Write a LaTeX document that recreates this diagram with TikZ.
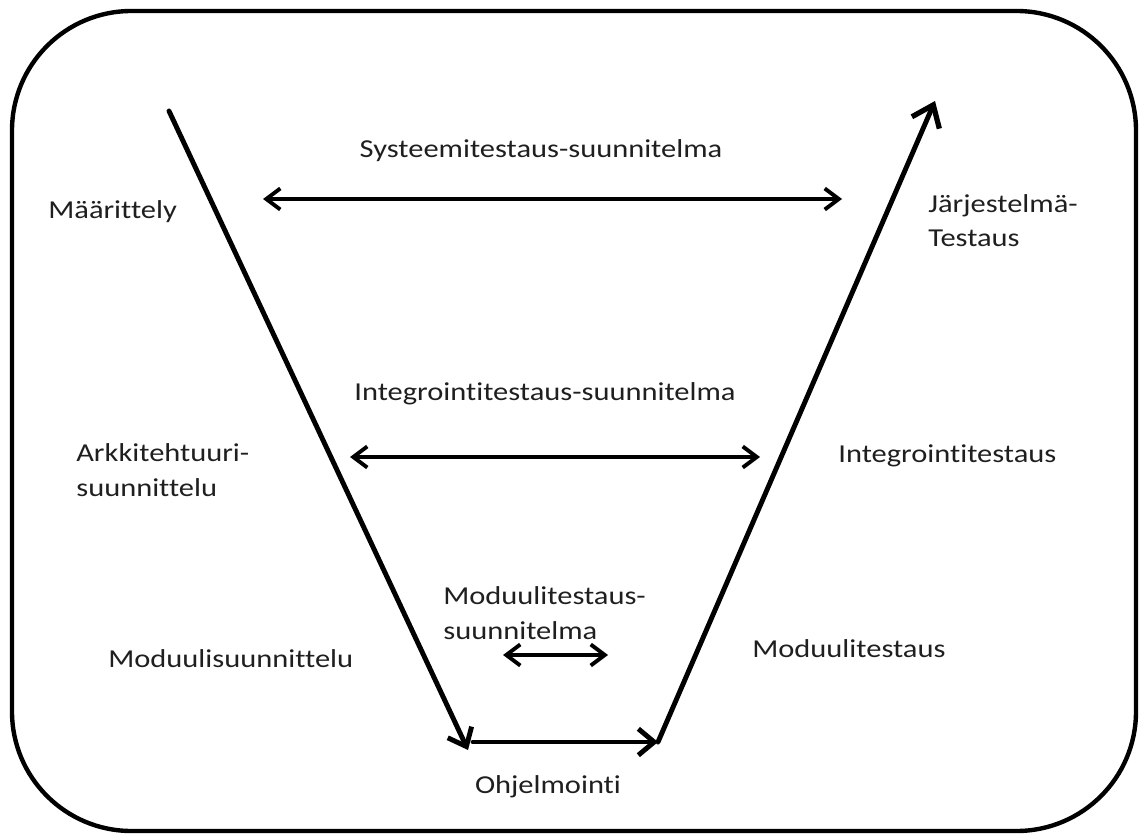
\documentclass[tikz,border=0pt]{standalone}
\usepackage{fontspec}
\setmainfont[FakeStretch=1.18,Ligatures={NoCommon}]{Carlito}
\usetikzlibrary{arrows.meta}
\begin{document}
\begin{tikzpicture}[x=0.02cm,y=-0.02cm,
  lbl/.style={inner sep=0pt, font=\fontsize{14.7}{19.8}\selectfont, text=black!88, align=left},
  vline/.style={line width=2.8pt, line cap=round,
    -{Straight Barb[length=9pt,width=15pt,line width=2.8pt]}},
  peak/.style={line width=2.8pt, line cap=round,
    -{Straight Barb[length=11pt,width=17pt,line width=3pt]}},
  both/.style={line width=2pt,
    {Straight Barb[length=8pt,width=12pt,line width=2.2pt]}-{Straight Barb[length=8pt,width=12pt,line width=2.2pt]}}
]
\useasboundingbox (0,0) rectangle (1142,834);
% outer frame
\draw[line width=2.5pt, rounded corners=68pt] (12,11) rectangle (1136,831);

% V-model path
\coordinate (vtop) at (169,111);
\coordinate (vbl) at (468,750);
\coordinate (bstart) at (473,742);
\coordinate (vbr) at (658,742);
\coordinate (vtr) at (935,101);
\draw[vline] (vtop) -- (vbl);
\draw[vline] (bstart) -- (vbr);
\draw[peak] (vbr) -- (vtr);

% test plan arrows
\coordinate (s1) at (263,199);
\coordinate (s2) at (842,199);
\coordinate (i1) at (350,457);
\coordinate (i2) at (760,457);
\coordinate (m1) at (503,655);
\coordinate (m2) at (608,655);
\draw[both] (s1) -- (s2);
\draw[both] (i1) -- (i2);
\draw[both] (m1) -- (m2);

% labels (multi-line nodes are placed by the baseline of their last line)
\node[lbl, anchor=base] (sys) at (541,158) {Systeemitestaus-suunnitelma};
\node[lbl, anchor=base west] (maar) at (48,219) {Määrittely};
\node[lbl, anchor=base west] (jarj) at (928,247) {Järjestelmä-\\Testaus};
\node[lbl, anchor=base] (intp) at (545,400) {Integrointitestaus-suunnitelma};
\node[lbl, anchor=base west] (arkk) at (76,496) {Arkkitehtuuri-\\suunnittelu};
\node[lbl, anchor=base west] (intt) at (838,462) {Integrointitestaus};
\node[lbl, anchor=base west] (modp) at (443,639) {Moduulitestaus-\\suunnitelma};
\node[lbl, anchor=base west] (mods) at (108,667) {Moduulisuunnittelu};
\node[lbl, anchor=base west] (modt) at (752,657) {Moduulitestaus};
\node[lbl, anchor=base] (ohj) at (548,793) {Ohjelmointi};
\end{tikzpicture}
\end{document}
